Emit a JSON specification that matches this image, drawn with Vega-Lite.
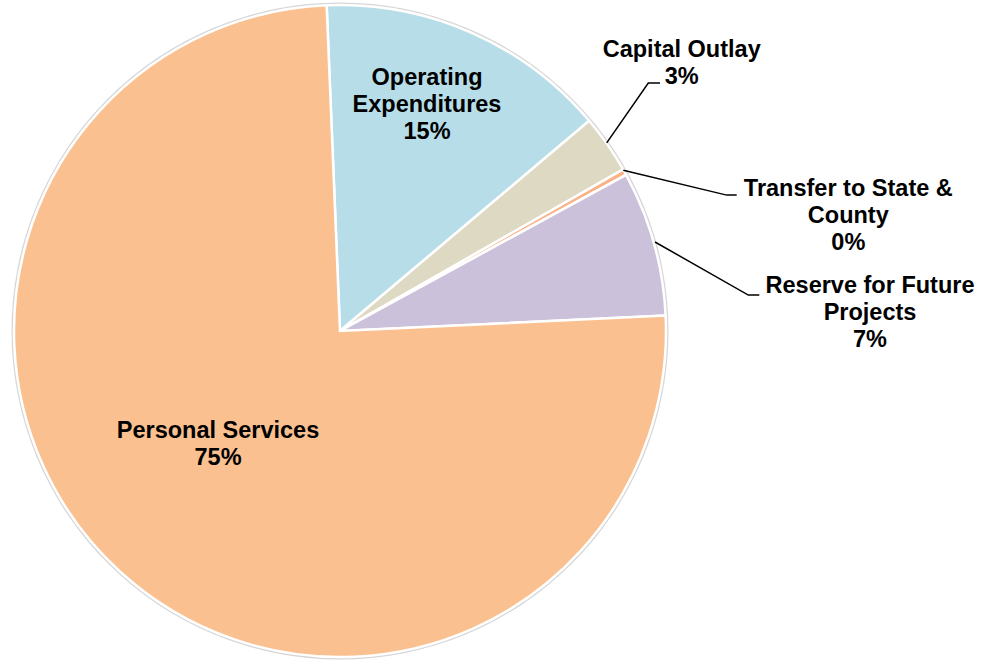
{
  "$schema": "https://vega.github.io/schema/vega-lite/v6.json",
  "width": 988,
  "height": 661,
  "autosize": {"type": "fit", "contains": "padding"},
  "padding": 0,
  "background": "white",
  "config": {"view": {"stroke": null}},
  "datasets": {
    "slices": [
      {"category": "Operating Expenditures", "value": 14.5, "ord": 1},
      {"category": "Capital Outlay", "value": 2.9, "ord": 2},
      {"category": "Transfer to State & County", "value": 0.3, "ord": 3},
      {"category": "Reserve for Future Projects", "value": 7.2, "ord": 4},
      {"category": "Personal Services", "value": 75.1, "ord": 5}
    ],
    "ring": [{"cx": 0, "cy": 0}],
    "leaders": [
      {"id": "cap", "seq": 1, "u": 81.81, "v": 57.88},
      {"id": "cap", "seq": 2, "u": 94.57, "v": 76.29},
      {"id": "cap", "seq": 3, "u": 98.16, "v": 76.29},
      {"id": "tr", "seq": 1, "u": 86.9, "v": 49.48},
      {"id": "tr", "seq": 2, "u": 118.62, "v": 41.81},
      {"id": "tr", "seq": 3, "u": 121.69, "v": 41.81},
      {"id": "res", "seq": 1, "u": 96.63, "v": 27.39},
      {"id": "res", "seq": 2, "u": 125.25, "v": 11.04},
      {"id": "res", "seq": 3, "u": 128.62, "v": 11.04}
    ],
    "labels": [
      {"label": "Operating\nExpenditures\n15%", "u": 26.69, "v": 77.91},
      {"label": "Capital Outlay\n3%", "u": 104.82, "v": 86.5},
      {"label": "Transfer to State &\nCounty\n0%", "u": 155.92, "v": 43.77},
      {"label": "Reserve for Future\nProjects\n7%", "u": 162.58, "v": 13.71},
      {"label": "Personal Services\n75%", "u": -37.42, "v": -30.67}
    ]
  },
  "layer": [
    {
      "data": {"name": "ring"},
      "mark": {"type": "arc", "radius": 328.5, "theta": 0, "theta2": 6.2832, "fill": "#d6d6d6"},
      "encoding": {
        "x": {"field": "cx", "type": "quantitative", "scale": {"domain": [-104.29, 198.77], "nice": false, "zero": false}, "axis": null},
        "y": {"field": "cy", "type": "quantitative", "scale": {"domain": [-100.92, 101.84], "nice": false, "zero": false}, "axis": null}
      }
    },
    {
      "data": {"name": "slices"},
      "mark": {"type": "arc", "radius": 326, "stroke": "white", "strokeWidth": 2.5},
      "encoding": {
        "x": {"datum": 0, "type": "quantitative"},
        "y": {"datum": 0, "type": "quantitative"},
        "theta": {"field": "value", "type": "quantitative", "stack": true, "scale": {"range": [-0.041, 6.2422]}},
        "order": {"field": "ord", "type": "quantitative"},
        "color": {
          "field": "category",
          "type": "nominal",
          "legend": null,
          "scale": {
            "domain": ["Operating Expenditures", "Capital Outlay", "Transfer to State & County", "Reserve for Future Projects", "Personal Services"],
            "range": ["#B7DEE8", "#DDD9C3", "#F9B287", "#CCC1DA", "#FAC090"]
          }
        }
      }
    },
    {
      "data": {"name": "leaders"},
      "mark": {"type": "line", "color": "black", "strokeWidth": 1.5},
      "encoding": {
        "x": {"field": "u", "type": "quantitative"},
        "y": {"field": "v", "type": "quantitative"},
        "detail": {"field": "id", "type": "nominal"},
        "order": {"field": "seq", "type": "quantitative"}
      }
    },
    {
      "data": {"name": "labels"},
      "mark": {"type": "text", "font": "Liberation Sans", "fontWeight": "bold", "fontSize": 23.5, "lineHeight": 27, "lineBreak": "\n", "align": "center", "baseline": "middle", "color": "black"},
      "encoding": {
        "x": {"field": "u", "type": "quantitative"},
        "y": {"field": "v", "type": "quantitative"},
        "text": {"field": "label", "type": "nominal"}
      }
    }
  ]
}
